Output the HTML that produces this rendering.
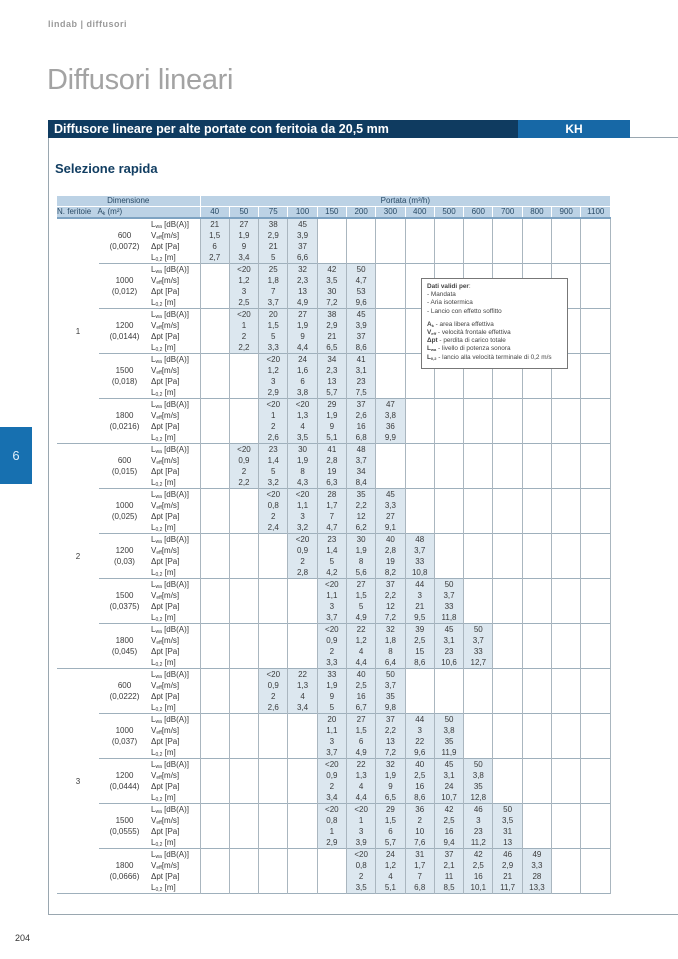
<!DOCTYPE html>
<html><head><meta charset="utf-8"><style>
*{margin:0;padding:0;box-sizing:border-box}
body{width:678px;height:959px;background:#fff;position:relative;overflow:hidden;font-family:"Liberation Sans",sans-serif;color:#3a3a3a}
.brand{position:absolute;left:48px;top:19px;font-size:9px;font-weight:bold;color:#9a9a9a;letter-spacing:0.5px}
.title{position:absolute;left:47px;top:64px;font-size:29px;color:#a3a3a3;font-weight:300;letter-spacing:-0.3px}
.bar{position:absolute;left:48px;top:120px;width:470px;height:18px;background:#0f3b60;color:#fff;font-weight:bold;font-size:12.5px;padding-left:6px;line-height:18px}
.kh{position:absolute;left:518px;top:120px;width:112px;height:18px;background:#1768a6;color:#fff;font-weight:bold;font-size:12px;text-align:center;line-height:18px}
.frame{position:absolute;left:48px;top:137px;width:640px;height:778px;border-left:1px solid #9aa7b0;border-top:1px solid #9aa7b0;border-bottom:1px solid #9aa7b0}
.sel{position:absolute;left:55px;top:161px;font-size:13px;font-weight:bold;color:#123e62}
.tab{position:absolute;left:0;top:427px;width:32px;height:57px;background:#1770b0;color:#dfeefa;font-size:13px;text-align:center;line-height:57px}
.pg{position:absolute;left:15px;top:933px;font-size:9px;color:#333}
table{position:absolute;left:57px;top:196px;border-collapse:collapse;table-layout:fixed;font-size:8px}
td{padding:0;vertical-align:top}
sub{line-height:0;font-size:5px;vertical-align:-1px}
.h1 td,.h2 td{background:#bcd2e5;color:#2a4b66;height:10px;line-height:10px;font-size:8px;vertical-align:middle}
.h1 td{border-bottom:1px solid #fff}
.h2 td{border-bottom:2px solid #7ea3c2;text-align:center}
.h2 td.w{border-left:1px solid #fff}
.nf{text-align:center;border-top:1px solid #9fb0bc;vertical-align:middle}
.c{height:44px;overflow:hidden}
.ak{text-align:center;border-top:1px solid #9fb0bc}
.ak .c{line-height:11px;padding-top:11px}
.lb{border-top:1px solid #9fb0bc;padding-left:1px;white-space:nowrap}
.lb .c,.d .c{line-height:11px}
.d{border-top:1px solid #9fb0bc;border-left:1px solid #aab6bf;border-right:1px solid #aab6bf;text-align:center}
.s{background:#dce7ef}
.first td{border-top:none}
.box{position:absolute;left:421px;top:278px;width:147px;height:91px;background:#fff;border:1px solid #777;font-size:6.4px;line-height:8.2px;padding:4px 5px;color:#444}
.box sub{font-size:4px}
</style></head><body>
<div class="brand">lindab | diffusori</div>
<div class="title">Diffusori lineari</div>
<div class="frame"></div>
<div class="bar">Diffusore lineare per alte portate con feritoia da 20,5 mm</div>
<div class="kh">KH</div>
<div class="sel">Selezione rapida</div>
<div class="tab">6</div>
<div class="pg">204</div>
<table>
<colgroup><col style="width:42px"><col style="width:51px"><col style="width:50px"><col span="14" style="width:29.3px"></colgroup>
<tr class="h1"><td colspan="3" style="text-align:center;border-right:1px solid #fff">Dimensione</td><td colspan="14" style="text-align:center">Portata (m³/h)</td></tr>
<tr class="h2"><td colspan="3" style="text-align:left">N. feritoie &nbsp; A<sub>k</sub> (m²)</td><td class="w">40</td><td class="w">50</td><td class="w">75</td><td class="w">100</td><td class="w">150</td><td class="w">200</td><td class="w">300</td><td class="w">400</td><td class="w">500</td><td class="w">600</td><td class="w">700</td><td class="w">800</td><td class="w">900</td><td class="w">1100</td></tr>

<tr class="first"><td class="nf" rowspan="5">1</td><td class="ak"><div class="c">600<br>(0,0072)</div></td><td class="lb"><div class="c">L<sub>wa</sub> [dB(A)]<br>V<sub>eff</sub>[m/s]<br>Δpt [Pa]<br>L<sub>0,2</sub> [m]</div></td><td class="d s"><div class="c">21<br>1,5<br>6<br>2,7</div></td><td class="d s"><div class="c">27<br>1,9<br>9<br>3,4</div></td><td class="d s"><div class="c">38<br>2,9<br>21<br>5</div></td><td class="d s"><div class="c">45<br>3,9<br>37<br>6,6</div></td><td class="d"></td><td class="d"></td><td class="d"></td><td class="d"></td><td class="d"></td><td class="d"></td><td class="d"></td><td class="d"></td><td class="d"></td><td class="d"></td></tr>
<tr><td class="ak"><div class="c">1000<br>(0,012)</div></td><td class="lb"><div class="c">L<sub>wa</sub> [dB(A)]<br>V<sub>eff</sub>[m/s]<br>Δpt [Pa]<br>L<sub>0,2</sub> [m]</div></td><td class="d"></td><td class="d s"><div class="c">&lt;20<br>1,2<br>3<br>2,5</div></td><td class="d s"><div class="c">25<br>1,8<br>7<br>3,7</div></td><td class="d s"><div class="c">32<br>2,3<br>13<br>4,9</div></td><td class="d s"><div class="c">42<br>3,5<br>30<br>7,2</div></td><td class="d s"><div class="c">50<br>4,7<br>53<br>9,6</div></td><td class="d"></td><td class="d"></td><td class="d"></td><td class="d"></td><td class="d"></td><td class="d"></td><td class="d"></td><td class="d"></td></tr>
<tr><td class="ak"><div class="c">1200<br>(0,0144)</div></td><td class="lb"><div class="c">L<sub>wa</sub> [dB(A)]<br>V<sub>eff</sub>[m/s]<br>Δpt [Pa]<br>L<sub>0,2</sub> [m]</div></td><td class="d"></td><td class="d s"><div class="c">&lt;20<br>1<br>2<br>2,2</div></td><td class="d s"><div class="c">20<br>1,5<br>5<br>3,3</div></td><td class="d s"><div class="c">27<br>1,9<br>9<br>4,4</div></td><td class="d s"><div class="c">38<br>2,9<br>21<br>6,5</div></td><td class="d s"><div class="c">45<br>3,9<br>37<br>8,6</div></td><td class="d"></td><td class="d"></td><td class="d"></td><td class="d"></td><td class="d"></td><td class="d"></td><td class="d"></td><td class="d"></td></tr>
<tr><td class="ak"><div class="c">1500<br>(0,018)</div></td><td class="lb"><div class="c">L<sub>wa</sub> [dB(A)]<br>V<sub>eff</sub>[m/s]<br>Δpt [Pa]<br>L<sub>0,2</sub> [m]</div></td><td class="d"></td><td class="d"></td><td class="d s"><div class="c">&lt;20<br>1,2<br>3<br>2,9</div></td><td class="d s"><div class="c">24<br>1,6<br>6<br>3,8</div></td><td class="d s"><div class="c">34<br>2,3<br>13<br>5,7</div></td><td class="d s"><div class="c">41<br>3,1<br>23<br>7,5</div></td><td class="d"></td><td class="d"></td><td class="d"></td><td class="d"></td><td class="d"></td><td class="d"></td><td class="d"></td><td class="d"></td></tr>
<tr><td class="ak"><div class="c">1800<br>(0,0216)</div></td><td class="lb"><div class="c">L<sub>wa</sub> [dB(A)]<br>V<sub>eff</sub>[m/s]<br>Δpt [Pa]<br>L<sub>0,2</sub> [m]</div></td><td class="d"></td><td class="d"></td><td class="d s"><div class="c">&lt;20<br>1<br>2<br>2,6</div></td><td class="d s"><div class="c">&lt;20<br>1,3<br>4<br>3,5</div></td><td class="d s"><div class="c">29<br>1,9<br>9<br>5,1</div></td><td class="d s"><div class="c">37<br>2,6<br>16<br>6,8</div></td><td class="d s"><div class="c">47<br>3,8<br>36<br>9,9</div></td><td class="d"></td><td class="d"></td><td class="d"></td><td class="d"></td><td class="d"></td><td class="d"></td><td class="d"></td></tr>

<tr><td class="nf" rowspan="5">2</td><td class="ak"><div class="c">600<br>(0,015)</div></td><td class="lb"><div class="c">L<sub>wa</sub> [dB(A)]<br>V<sub>eff</sub>[m/s]<br>Δpt [Pa]<br>L<sub>0,2</sub> [m]</div></td><td class="d"></td><td class="d s"><div class="c">&lt;20<br>0,9<br>2<br>2,2</div></td><td class="d s"><div class="c">23<br>1,4<br>5<br>3,2</div></td><td class="d s"><div class="c">30<br>1,9<br>8<br>4,3</div></td><td class="d s"><div class="c">41<br>2,8<br>19<br>6,3</div></td><td class="d s"><div class="c">48<br>3,7<br>34<br>8,4</div></td><td class="d"></td><td class="d"></td><td class="d"></td><td class="d"></td><td class="d"></td><td class="d"></td><td class="d"></td><td class="d"></td></tr>
<tr><td class="ak"><div class="c">1000<br>(0,025)</div></td><td class="lb"><div class="c">L<sub>wa</sub> [dB(A)]<br>V<sub>eff</sub>[m/s]<br>Δpt [Pa]<br>L<sub>0,2</sub> [m]</div></td><td class="d"></td><td class="d"></td><td class="d s"><div class="c">&lt;20<br>0,8<br>2<br>2,4</div></td><td class="d s"><div class="c">&lt;20<br>1,1<br>3<br>3,2</div></td><td class="d s"><div class="c">28<br>1,7<br>7<br>4,7</div></td><td class="d s"><div class="c">35<br>2,2<br>12<br>6,2</div></td><td class="d s"><div class="c">45<br>3,3<br>27<br>9,1</div></td><td class="d"></td><td class="d"></td><td class="d"></td><td class="d"></td><td class="d"></td><td class="d"></td><td class="d"></td></tr>
<tr><td class="ak"><div class="c">1200<br>(0,03)</div></td><td class="lb"><div class="c">L<sub>wa</sub> [dB(A)]<br>V<sub>eff</sub>[m/s]<br>Δpt [Pa]<br>L<sub>0,2</sub> [m]</div></td><td class="d"></td><td class="d"></td><td class="d"></td><td class="d s"><div class="c">&lt;20<br>0,9<br>2<br>2,8</div></td><td class="d s"><div class="c">23<br>1,4<br>5<br>4,2</div></td><td class="d s"><div class="c">30<br>1,9<br>8<br>5,6</div></td><td class="d s"><div class="c">40<br>2,8<br>19<br>8,2</div></td><td class="d s"><div class="c">48<br>3,7<br>33<br>10,8</div></td><td class="d"></td><td class="d"></td><td class="d"></td><td class="d"></td><td class="d"></td><td class="d"></td></tr>
<tr><td class="ak"><div class="c">1500<br>(0,0375)</div></td><td class="lb"><div class="c">L<sub>wa</sub> [dB(A)]<br>V<sub>eff</sub>[m/s]<br>Δpt [Pa]<br>L<sub>0,2</sub> [m]</div></td><td class="d"></td><td class="d"></td><td class="d"></td><td class="d"></td><td class="d s"><div class="c">&lt;20<br>1,1<br>3<br>3,7</div></td><td class="d s"><div class="c">27<br>1,5<br>5<br>4,9</div></td><td class="d s"><div class="c">37<br>2,2<br>12<br>7,2</div></td><td class="d s"><div class="c">44<br>3<br>21<br>9,5</div></td><td class="d s"><div class="c">50<br>3,7<br>33<br>11,8</div></td><td class="d"></td><td class="d"></td><td class="d"></td><td class="d"></td><td class="d"></td></tr>
<tr><td class="ak"><div class="c">1800<br>(0,045)</div></td><td class="lb"><div class="c">L<sub>wa</sub> [dB(A)]<br>V<sub>eff</sub>[m/s]<br>Δpt [Pa]<br>L<sub>0,2</sub> [m]</div></td><td class="d"></td><td class="d"></td><td class="d"></td><td class="d"></td><td class="d s"><div class="c">&lt;20<br>0,9<br>2<br>3,3</div></td><td class="d s"><div class="c">22<br>1,2<br>4<br>4,4</div></td><td class="d s"><div class="c">32<br>1,8<br>8<br>6,4</div></td><td class="d s"><div class="c">39<br>2,5<br>15<br>8,6</div></td><td class="d s"><div class="c">45<br>3,1<br>23<br>10,6</div></td><td class="d s"><div class="c">50<br>3,7<br>33<br>12,7</div></td><td class="d"></td><td class="d"></td><td class="d"></td><td class="d"></td></tr>

<tr><td class="nf" rowspan="5">3</td><td class="ak"><div class="c">600<br>(0,0222)</div></td><td class="lb"><div class="c">L<sub>wa</sub> [dB(A)]<br>V<sub>eff</sub>[m/s]<br>Δpt [Pa]<br>L<sub>0,2</sub> [m]</div></td><td class="d"></td><td class="d"></td><td class="d s"><div class="c">&lt;20<br>0,9<br>2<br>2,6</div></td><td class="d s"><div class="c">22<br>1,3<br>4<br>3,4</div></td><td class="d s"><div class="c">33<br>1,9<br>9<br>5</div></td><td class="d s"><div class="c">40<br>2,5<br>16<br>6,7</div></td><td class="d s"><div class="c">50<br>3,7<br>35<br>9,8</div></td><td class="d"></td><td class="d"></td><td class="d"></td><td class="d"></td><td class="d"></td><td class="d"></td><td class="d"></td></tr>
<tr><td class="ak"><div class="c">1000<br>(0,037)</div></td><td class="lb"><div class="c">L<sub>wa</sub> [dB(A)]<br>V<sub>eff</sub>[m/s]<br>Δpt [Pa]<br>L<sub>0,2</sub> [m]</div></td><td class="d"></td><td class="d"></td><td class="d"></td><td class="d"></td><td class="d s"><div class="c">20<br>1,1<br>3<br>3,7</div></td><td class="d s"><div class="c">27<br>1,5<br>6<br>4,9</div></td><td class="d s"><div class="c">37<br>2,2<br>13<br>7,2</div></td><td class="d s"><div class="c">44<br>3<br>22<br>9,6</div></td><td class="d s"><div class="c">50<br>3,8<br>35<br>11,9</div></td><td class="d"></td><td class="d"></td><td class="d"></td><td class="d"></td><td class="d"></td></tr>
<tr><td class="ak"><div class="c">1200<br>(0,0444)</div></td><td class="lb"><div class="c">L<sub>wa</sub> [dB(A)]<br>V<sub>eff</sub>[m/s]<br>Δpt [Pa]<br>L<sub>0,2</sub> [m]</div></td><td class="d"></td><td class="d"></td><td class="d"></td><td class="d"></td><td class="d s"><div class="c">&lt;20<br>0,9<br>2<br>3,4</div></td><td class="d s"><div class="c">22<br>1,3<br>4<br>4,4</div></td><td class="d s"><div class="c">32<br>1,9<br>9<br>6,5</div></td><td class="d s"><div class="c">40<br>2,5<br>16<br>8,6</div></td><td class="d s"><div class="c">45<br>3,1<br>24<br>10,7</div></td><td class="d s"><div class="c">50<br>3,8<br>35<br>12,8</div></td><td class="d"></td><td class="d"></td><td class="d"></td><td class="d"></td></tr>
<tr><td class="ak"><div class="c">1500<br>(0,0555)</div></td><td class="lb"><div class="c">L<sub>wa</sub> [dB(A)]<br>V<sub>eff</sub>[m/s]<br>Δpt [Pa]<br>L<sub>0,2</sub> [m]</div></td><td class="d"></td><td class="d"></td><td class="d"></td><td class="d"></td><td class="d s"><div class="c">&lt;20<br>0,8<br>1<br>2,9</div></td><td class="d s"><div class="c">&lt;20<br>1<br>3<br>3,9</div></td><td class="d s"><div class="c">29<br>1,5<br>6<br>5,7</div></td><td class="d s"><div class="c">36<br>2<br>10<br>7,6</div></td><td class="d s"><div class="c">42<br>2,5<br>16<br>9,4</div></td><td class="d s"><div class="c">46<br>3<br>23<br>11,2</div></td><td class="d s"><div class="c">50<br>3,5<br>31<br>13</div></td><td class="d"></td><td class="d"></td><td class="d"></td></tr>
<tr><td class="ak"><div class="c">1800<br>(0,0666)</div></td><td class="lb"><div class="c">L<sub>wa</sub> [dB(A)]<br>V<sub>eff</sub>[m/s]<br>Δpt [Pa]<br>L<sub>0,2</sub> [m]</div></td><td class="d"></td><td class="d"></td><td class="d"></td><td class="d"></td><td class="d"></td><td class="d s"><div class="c">&lt;20<br>0,8<br>2<br>3,5</div></td><td class="d s"><div class="c">24<br>1,2<br>4<br>5,1</div></td><td class="d s"><div class="c">31<br>1,7<br>7<br>6,8</div></td><td class="d s"><div class="c">37<br>2,1<br>11<br>8,5</div></td><td class="d s"><div class="c">42<br>2,5<br>16<br>10,1</div></td><td class="d s"><div class="c">46<br>2,9<br>21<br>11,7</div></td><td class="d s"><div class="c">49<br>3,3<br>28<br>13,3</div></td><td class="d"></td><td class="d"></td></tr>
<tr><td colspan="17" style="border-top:1px solid #9fb0bc;height:0"></td></tr>
</table>
<div class="box"><b>Dati validi per</b>:<br>- Mandata<br>- Aria isotermica<br>- Lancio con effetto soffitto<br><div style="height:5px"></div><b>A<sub>k</sub></b> - area libera effettiva<br><b>V<sub>eff</sub></b> - velocità frontale effettiva<br><b>Δpt</b> - perdita di carico totale<br><b>L<sub>wa</sub></b> - livello di potenza sonora<br><b>L<sub>0,2</sub></b> - lancio alla velocità terminale di 0,2 m/s</div>
</body></html>
